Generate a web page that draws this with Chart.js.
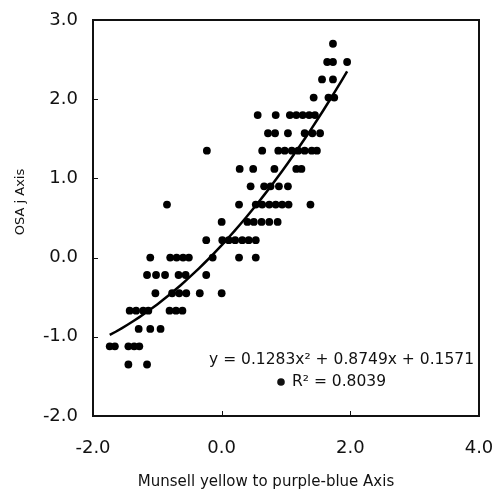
<!DOCTYPE html>
<html>
<head>
<meta charset="utf-8">
<script src="https://cdn.jsdelivr.net/npm/chart.js@4.4.1/dist/chart.umd.min.js"></script>
<style>
  html, body { margin: 0; padding: 0; background: #fff; }
  #wrap { width: 494px; height: 493px; }
</style>
</head>
<body>
<div id="wrap"><canvas id="osaChart"></canvas></div>
<script>
// OSA j values come in rows; for each row, the Munsell positions
const rowJ = [2.70, 2.47, 2.25, 2.02, 1.80, 1.57, 1.35, 1.12, 0.90, 0.67,
              0.45, 0.22, 0.00, -0.22, -0.45, -0.67, -0.90, -1.12, -1.35];
const rowMunsell = [
  [1.73],
  [1.64, 1.73, 1.95],
  [1.56, 1.73],
  [1.43, 1.66, 1.75],
  [0.56, 0.84, 1.06, 1.16, 1.26, 1.36, 1.45],
  [0.72, 0.83, 1.03, 1.29, 1.41, 1.53],
  [-0.23, 0.63, 0.88, 0.98, 1.09, 1.19, 1.29, 1.40, 1.48],
  [0.28, 0.49, 0.82, 1.16, 1.24],
  [0.45, 0.66, 0.76, 0.89, 1.03],
  [-0.85, 0.27, 0.53, 0.63, 0.74, 0.84, 0.94, 1.04, 1.38],
  [0.00, 0.40, 0.50, 0.62, 0.74, 0.87],
  [-0.24, 0.01, 0.11, 0.21, 0.32, 0.42, 0.53],
  [-1.11, -0.80, -0.70, -0.60, -0.51, -0.14, 0.27, 0.53],
  [-1.16, -1.02, -0.88, -0.67, -0.56, -0.24],
  [-1.03, -0.77, -0.66, -0.55, -0.34, 0.00],
  [-1.43, -1.33, -1.22, -1.14, -0.81, -0.71, -0.61],
  [-1.29, -1.11, -0.95],
  [-1.74, -1.66, -1.45, -1.36, -1.28],
  [-1.45, -1.16]
];

// quadratic trendline as printed on the chart: a*x^2 + b*x + c
const trendCoef = [0.1283, 0.8749, 0.1571];
const trendRange = [-1.74, 1.95];

const xTicks = [-2, 0, 2, 4];
const yTicks = [-2, -1, 0, 1, 2, 3];

const xTitle = 'Munsell yellow to purple-blue Axis';
const yTitle = 'OSA j Axis';
const eqText = 'y = 0.1283x\u00B2 + 0.8749x + 0.1571';
const r2Text = 'R\u00B2 = 0.8039';

const points = [];
rowJ.forEach((j, i) => {
  rowMunsell[i].forEach(m => points.push({ x: m, y: j }));
});

const trend = [];
for (let k = 0; k <= 40; k++) {
  const x = trendRange[0] + (trendRange[1] - trendRange[0]) * k / 40;
  trend.push({ x: x, y: trendCoef[0] * x * x + trendCoef[1] * x + trendCoef[2] });
}

const FONT = '"DejaVu Sans", Verdana, sans-serif';
const INK = '#111';

// keep the plot box where the reference has it: no extra room for edge labels
function noEdgePadding(s) {
  s.paddingLeft = 0; s.paddingRight = 0; s.paddingTop = 0; s.paddingBottom = 0;
}

// frame, inward tick marks, axis titles and the trendline label
const decorPlugin = {
  id: 'decor',
  afterDatasetsDraw(chart) {
    const { ctx, chartArea: a, scales: { x, y } } = chart;
    ctx.save();
    ctx.strokeStyle = INK;
    ctx.lineWidth = 2;
    ctx.strokeRect(a.left, a.top, a.right - a.left, a.bottom - a.top);

    ctx.lineWidth = 1;
    xTicks.forEach(v => {
      const px = Math.round(x.getPixelForValue(v)) + 0.5;
      ctx.beginPath(); ctx.moveTo(px, a.bottom); ctx.lineTo(px, a.bottom - 5); ctx.stroke();
    });
    yTicks.forEach(v => {
      const py = Math.round(y.getPixelForValue(v)) + 0.5;
      ctx.beginPath(); ctx.moveTo(a.left, py); ctx.lineTo(a.left + 5, py); ctx.stroke();
    });

    ctx.fillStyle = INK;
    ctx.textBaseline = 'middle';
    ctx.textAlign = 'center';
    ctx.font = '15px ' + FONT;
    ctx.fillText(xTitle, 266, 482);

    ctx.save();
    ctx.translate(21, 202);
    ctx.rotate(-Math.PI / 2);
    ctx.font = '13px ' + FONT;
    ctx.fillText(yTitle, 0, 0);
    ctx.restore();

    ctx.font = '15.5px ' + FONT;
    ctx.textAlign = 'right';
    ctx.fillText(eqText, 474, 360);
    ctx.textAlign = 'left';
    ctx.fillText(r2Text, 292, 382);
    ctx.beginPath();
    ctx.arc(281, 382, 3.8, 0, Math.PI * 2);
    ctx.fill();
    ctx.restore();
  }
};

new Chart(document.getElementById('osaChart').getContext('2d'), {
  type: 'scatter',
  data: {
    datasets: [{
      label: 'samples',
      data: points,
      pointRadius: 3.9,
      pointBackgroundColor: '#000',
      pointBorderWidth: 0,
      order: 2
    }, {
      label: 'trend',
      data: trend,
      showLine: true,
      borderColor: '#000',
      borderWidth: 2.5,
      pointRadius: 0,
      tension: 0,
      order: 1
    }]
  },
  options: {
    responsive: true,
    maintainAspectRatio: false,
    animation: false,
    layout: { padding: { top: 20, right: 15, left: 0, bottom: 0 } },
    plugins: {
      legend: { display: false },
      tooltip: { enabled: false }
    },
    scales: {
      x: {
        min: -2, max: 4,
        afterFit: s => { s.height = 77; noEdgePadding(s); },
        afterBuildTicks: s => { s.ticks = xTicks.map(v => ({ value: v })); },
        grid: { display: false, drawTicks: false },
        border: { display: false },
        ticks: {
          padding: 22,
          maxRotation: 0,
          color: INK,
          font: { family: FONT, size: 18 },
          callback: v => v.toFixed(1)
        }
      },
      y: {
        min: -2, max: 3,
        afterFit: s => { s.width = 93; noEdgePadding(s); },
        afterBuildTicks: s => { s.ticks = yTicks.map(v => ({ value: v })); },
        grid: { display: false, drawTicks: false },
        border: { display: false },
        ticks: {
          padding: 15,
          color: INK,
          font: { family: FONT, size: 18 },
          callback: v => v.toFixed(1)
        }
      }
    }
  },
  plugins: [decorPlugin]
});
</script>
</body>
</html>
